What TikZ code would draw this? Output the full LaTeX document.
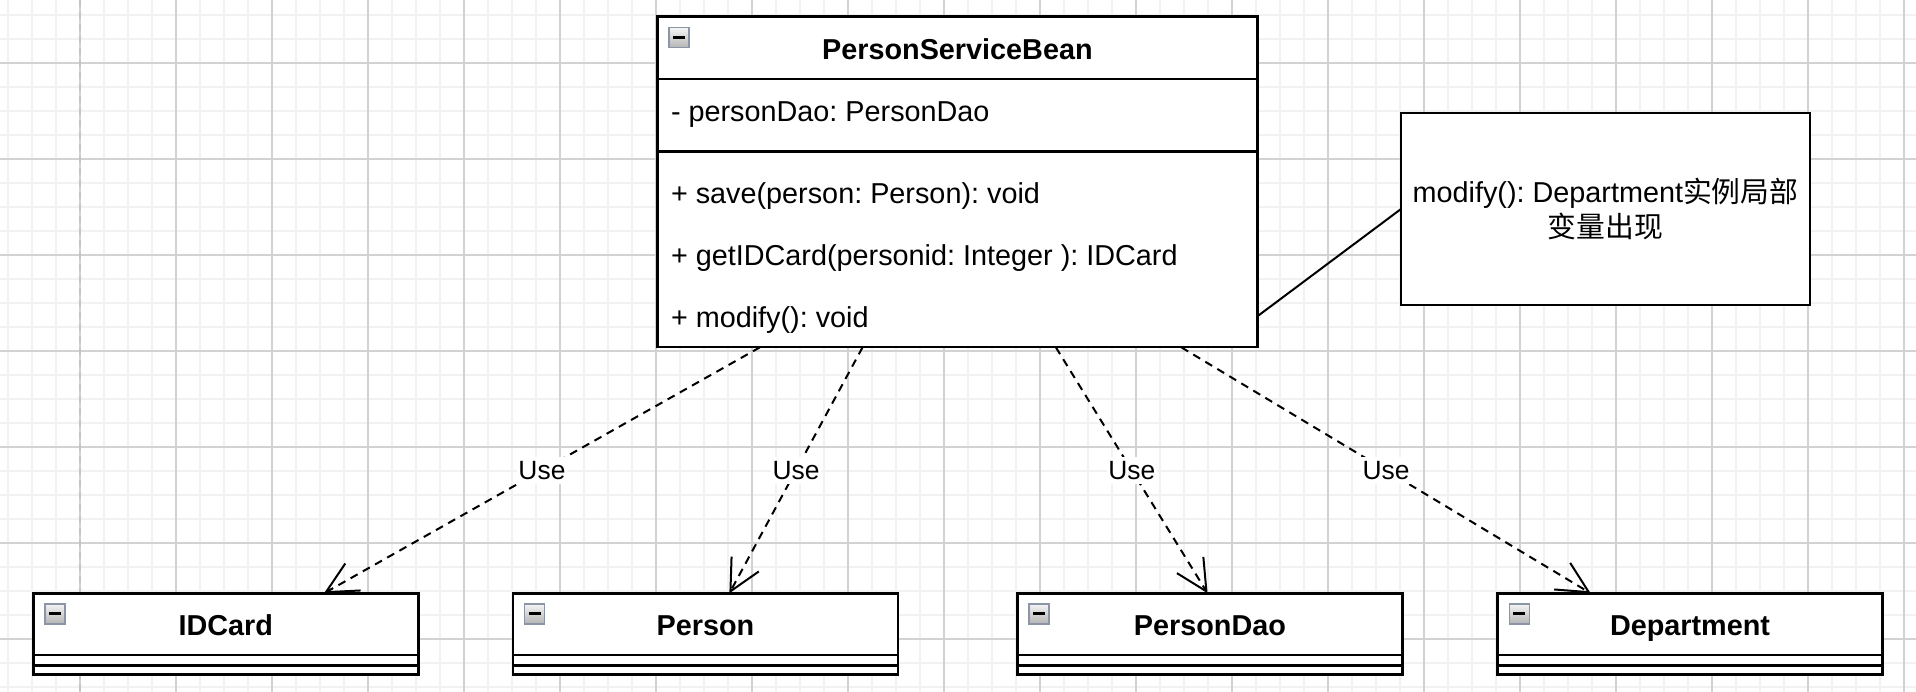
\documentclass[tikz,border=0pt]{standalone}
\usepackage{fontspec}
\setmainfont{Liberation Sans}
\newfontfamily\cjk{Noto Sans CJK SC}
\usetikzlibrary{arrows.meta,calc}
\frenchspacing
\definecolor{gridminor}{HTML}{F2F2F2}
\definecolor{gridmajor}{HTML}{D2D2D2}
\definecolor{pageline}{HTML}{C4C4C4}
\definecolor{iconborder}{HTML}{8C95A6}
\definecolor{icontop}{HTML}{F4F4F4}
\definecolor{iconbot}{HTML}{B4B4B4}
\tikzset{
  classbox/.style={draw=black, fill=white, line width=2.4pt, rectangle, inner sep=0pt, outer sep=0pt, anchor=north west},
  sepline/.style={draw=black, line width=2.4pt},
  titletext/.style={font=\fontsize{28.8}{34}\selectfont\bfseries, inner sep=0pt, anchor=base},
  membertext/.style={font=\fontsize{28.8}{34}\selectfont, inner sep=0pt, anchor=base west},
  collapseicon/.style={draw=iconborder, line width=1.2pt, top color=icontop, bottom color=iconbot,
    minimum size=20pt, inner sep=0pt, anchor=north west,
    path picture={\draw[black, line width=3pt] ([xshift=4pt]path picture bounding box.west) -- ([xshift=-4pt]path picture bounding box.east);}},
  usearrow/.style={draw=black, line width=2pt, dash pattern=on 8pt off 6pt,
    -{Straight Barb[length=31pt, width=31pt, line width=2pt]}},
  uselabel/.style={font=\fontsize{26.4}{30}\selectfont, fill=white, inner xsep=1.5pt, inner ysep=4pt, text height=19pt, text depth=0pt},
  notebox/.style={draw=black, fill=white, line width=2.4pt, rectangle, inner sep=0pt, outer sep=0pt,
    minimum width=409pt, minimum height=192pt, align=center, font=\fontsize{28.8}{34.5}\selectfont},
  noteline/.style={draw=black, line width=2pt}
}
\begin{document}
\begin{tikzpicture}[x=1pt, y=-1pt]
\useasboundingbox (0,0) rectangle (1916,692);
\fill[white] (0,0) rectangle (1916,692);
% grid
\foreach \gx in {8,32,...,1916} \draw[gridminor, line width=1.3pt] (\gx,0) -- (\gx,692);
\foreach \gy in {15,39,...,692} \draw[gridminor, line width=1.3pt] (0,\gy) -- (1916,\gy);
\foreach \gx in {80,176,...,1916} \draw[gridmajor, line width=1.1pt] (\gx,0) -- (\gx,692);
\foreach \gy in {63,159,...,692} \draw[gridmajor, line width=1.1pt] (0,\gy) -- (1916,\gy);
\draw[pageline, line width=1.6pt, dash pattern=on 7pt off 5pt] (80,0) -- (80,692);

% PersonServiceBean
\node[classbox, minimum width=600.2pt, minimum height=330.6pt] (psb) at (657.3,16.7) {};
\draw[sepline] ($(psb.north west)+(0,62.6)$) -- ($(psb.north east)+(0,62.6)$);
\draw[sepline] ($(psb.north west)+(0,135)$) -- ($(psb.north east)+(0,135)$);
\node[collapseicon] (psbicon) at ($(psb.north west)+(11,10.6)$) {};
\node[titletext] (psbname) at ($(psb.north)+(0,42.8)$) {PersonServiceBean};
\node[membertext] (psbattr) at ($(psb.north west)+(13.5,105)$) {- personDao: PersonDao};
\node[membertext] (psbm1) at ($(psb.north west)+(13.5,186.6)$) {+ save(person: Person): void};
\node[membertext] (psbm2) at ($(psb.north west)+(13.5,249.2)$) {+ getIDCard(personid: Integer ): IDCard};
\node[membertext] (psbm3) at ($(psb.north west)+(13.5,310.8)$) {+ modify(): void};

% small classes
\foreach \nm/\px/\txt in {idc/33.3/IDCard, per/513/Person, pdao/1017.4/PersonDao, dept/1497.5/Department}{
  \node[classbox, minimum width=385pt, minimum height=81pt] (\nm) at (\px,593.3) {};
  \draw[sepline] ($(\nm.north west)+(0,61.7)$) -- ($(\nm.north east)+(0,61.7)$);
  \draw[sepline] ($(\nm.north west)+(0,72.2)$) -- ($(\nm.north east)+(0,72.2)$);
  \node[collapseicon] (\nm icon) at ($(\nm.north west)+(11,10)$) {};
  \node[titletext] (\nm name) at ($(\nm.north)+(0,42)$) {\txt};
}

% note
\node[notebox] (note) at (1605.5,209) {modify(): Department{\cjk 实例局部}\\{\cjk 变量出现}};
\draw[noteline] ($(psb.north east)+(0,299.5)$) -- (note.west);

% dependencies
\draw[usearrow] ($(psb.south west)!0.171!(psb.south east)$) -- node[uselabel, midway] (u1) {Use} ($(idc.north west)!0.755!(idc.north east)$);
\draw[usearrow] ($(psb.south west)!0.342!(psb.south east)$) -- node[uselabel, midway] (u2) {Use} ($(per.north west)!0.562!(per.north east)$);
\draw[usearrow] ($(psb.south west)!0.664!(psb.south east)$) -- node[uselabel, midway] (u3) {Use} ($(pdao.north west)!0.494!(pdao.north east)$);
\draw[usearrow] ($(psb.south west)!0.873!(psb.south east)$) -- node[uselabel, midway] (u4) {Use} ($(dept.north west)!0.242!(dept.north east)$);
\end{tikzpicture}
\end{document}
